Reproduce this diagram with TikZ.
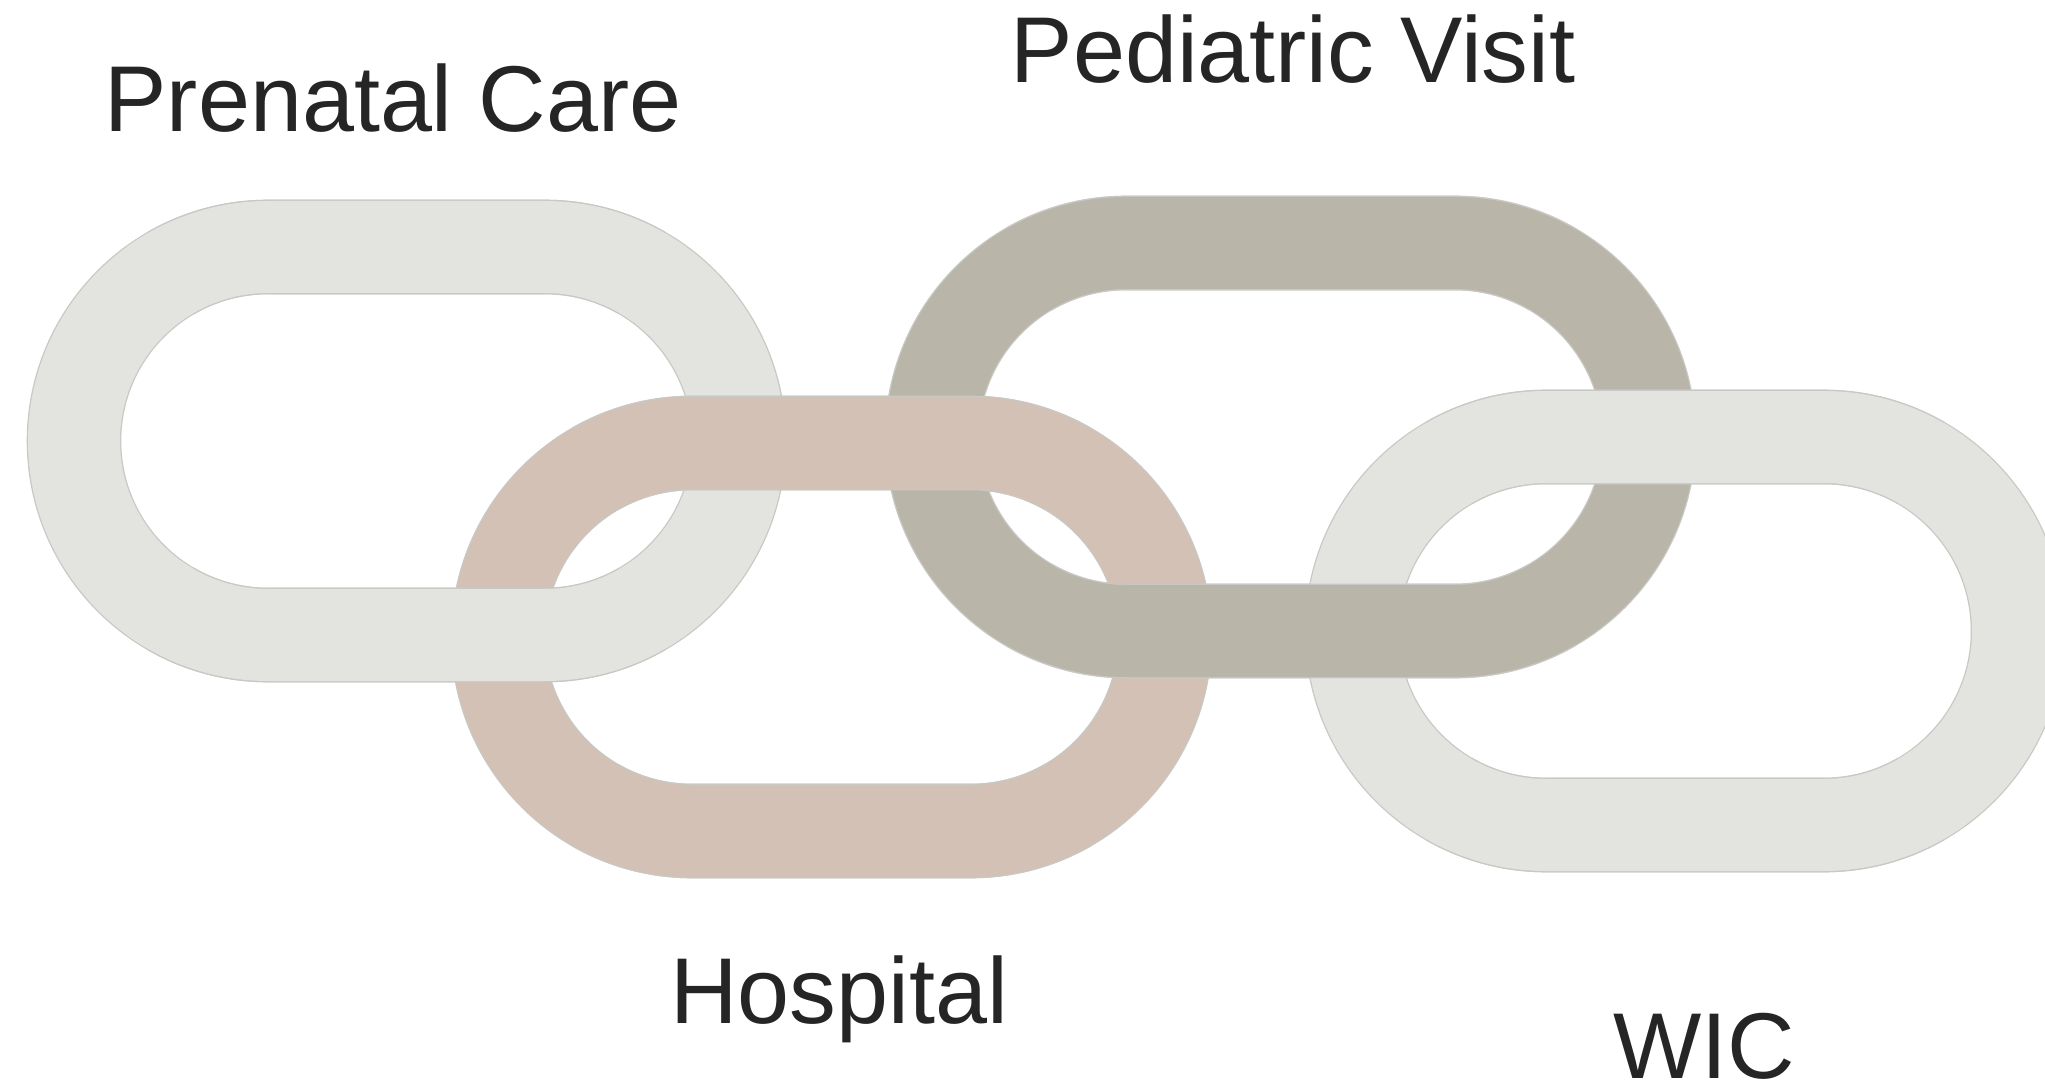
\documentclass[tikz,border=0pt]{standalone}
\usepackage{fontspec}
\setmainfont{Liberation Sans}
\usepackage{tikz}
\usepackage{xcolor}

\definecolor{lgray}{HTML}{E3E4E0}
\definecolor{lpink}{HTML}{D3C1B5}
\definecolor{ltaupe}{HTML}{B9B5A9}
\definecolor{edge}{HTML}{C8C8C4}
\definecolor{ink}{HTML}{262525}

\begin{document}
\begin{tikzpicture}[x=1pt,y=1pt,
    ring/.style={line width=1.3pt,draw=edge,double distance=92pt,line cap=butt},
    rim/.style={line width=94.6pt,draw=edge,line cap=butt},
    core/.style={line width=92pt,draw=#1,line cap=butt},
    lbl/.style={inner sep=0pt,anchor=base,text=ink,font=\fontsize{93.5}{100}\selectfont}]
        \def\R{194}

        %------------------
        % 背景
        %------------------
        \useasboundingbox (0,0) rectangle (2045,-1083);
        \fill[white] (0,0) rectangle (2045,-1083);

        %------------------
        % 輪（全体）
        %------------------
        \foreach \a/\b/\y/\c in {268/545/-441/lgray, 692/971/-637/lpink,
                                 1126/1455/-437/ltaupe, 1546/1824/-631/lgray}{
          \draw[ring,double=\c]
            (\a,\y+\R) -- (\b,\y+\R) arc[start angle=90,end angle=-90,radius=\R]
            -- (\a,\y-\R) arc[start angle=270,end angle=90,radius=\R] -- cycle;
        }

        %------------------
        % 上下の帯（交差部分を上に）
        %------------------
        \foreach \a/\b/\y/\c in {268/545/-441/lgray, 692/971/-637/lpink,
                                 1126/1455/-437/ltaupe, 1546/1824/-631/lgray}{
          % 上の帯
          \draw[rim]
            ({\b+\R*cos(60)},{\y+\R*sin(60)}) arc[start angle=60,end angle=90,radius=\R]
            -- (\a,\y+\R) arc[start angle=90,end angle=120,radius=\R];
          \draw[core=\c]
            ({\b+\R*cos(54)},{\y+\R*sin(54)}) arc[start angle=54,end angle=90,radius=\R]
            -- (\a,\y+\R) arc[start angle=90,end angle=126,radius=\R];
          % 下の帯
          \draw[rim]
            ({\a+\R*cos(240)},{\y+\R*sin(240)}) arc[start angle=240,end angle=270,radius=\R]
            -- (\b,\y-\R) arc[start angle=270,end angle=300,radius=\R];
          \draw[core=\c]
            ({\a+\R*cos(234)},{\y+\R*sin(234)}) arc[start angle=234,end angle=270,radius=\R]
            -- (\b,\y-\R) arc[start angle=270,end angle=306,radius=\R];
        }

        %------------------
        % ラベル
        %------------------
        \node[lbl] (prenatal) at (393,-132) {Prenatal Care};
        \node[lbl] (pediatric) at (1293,-83) {Pediatric Visit};
        \node[lbl] (hospital) at (839,-1023) {Hospital};
        \node[lbl] (wic) at (1704,-1078) {WIC};
      \end{tikzpicture}
\end{document}
